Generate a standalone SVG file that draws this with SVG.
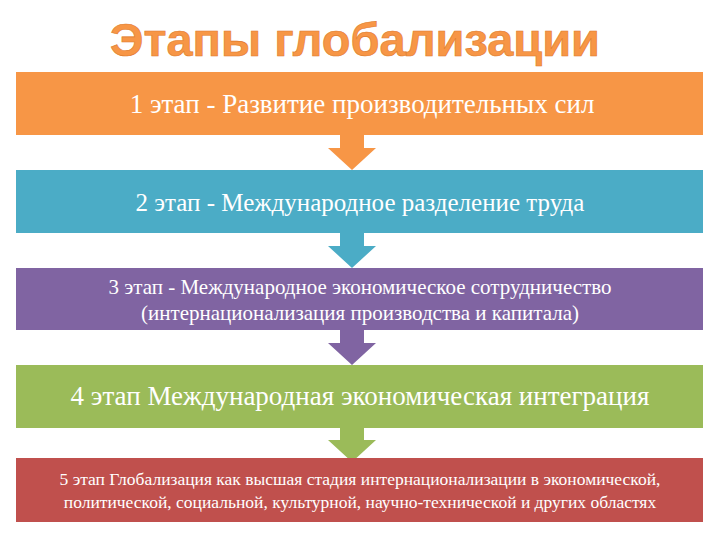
<svg xmlns="http://www.w3.org/2000/svg" width="720" height="540" viewBox="0 0 720 540">
<style>
.t{font-family:'Liberation Serif','Times New Roman','DejaVu Serif',serif;fill:#fff;text-anchor:middle}
.h{font-family:'Liberation Sans',Arial,sans-serif;font-weight:bold;fill:#F79646;stroke:#e07a2a;stroke-width:0.6;text-anchor:middle}
</style>
<rect width="720" height="540" fill="#fff"/>
<text class="h" x="355" y="56" font-size="47">Этапы глобализации</text>
<g id="connectors">
<polygon points="340,135 364,135 364,148 376,148 352,170 328,148 340,148" fill="#F79646"/>
<polygon points="340,233 364,233 364,246 376,246 352,268 328,246 340,246" fill="#4BACC6"/>
<polygon points="340,330 364,330 364,343 376,343 352,365 328,343 340,343" fill="#8064A2"/>
<polygon points="340,428 364,428 364,440 376,440 352,462 328,440 340,440" fill="#9BBB59"/>
</g>
<g id="n1"><rect x="16" y="72" width="687" height="63" fill="#F79646"/><text class="t" x="362" y="113" font-size="27">1 этап - Развитие производительных сил</text></g>
<g id="n2"><rect x="16" y="170" width="687" height="63" fill="#4BACC6"/><text class="t" x="360" y="211" font-size="25">2 этап - Международное разделение труда</text></g>
<g id="n3"><rect x="16" y="268" width="687" height="62" fill="#8064A2"/><text class="t" x="360" y="294" font-size="21">3 этап - Международное экономическое сотрудничество</text><text class="t" x="360" y="320" font-size="21">(интернационализация производства и капитала)</text></g>
<g id="n4"><rect x="16" y="365" width="687" height="63" fill="#9BBB59"/><text class="t" x="360" y="405" font-size="27">4 этап Международная экономическая интеграция</text></g>
<g id="n5"><rect x="16" y="458" width="687" height="64" fill="#C0504D"/><text class="t" x="360" y="485" font-size="17.5">5 этап Глобализация как высшая стадия интернационализации в экономической,</text><text class="t" x="360" y="508" font-size="17.5">политической, социальной, культурной, научно-технической и других областях</text></g>
</svg>
